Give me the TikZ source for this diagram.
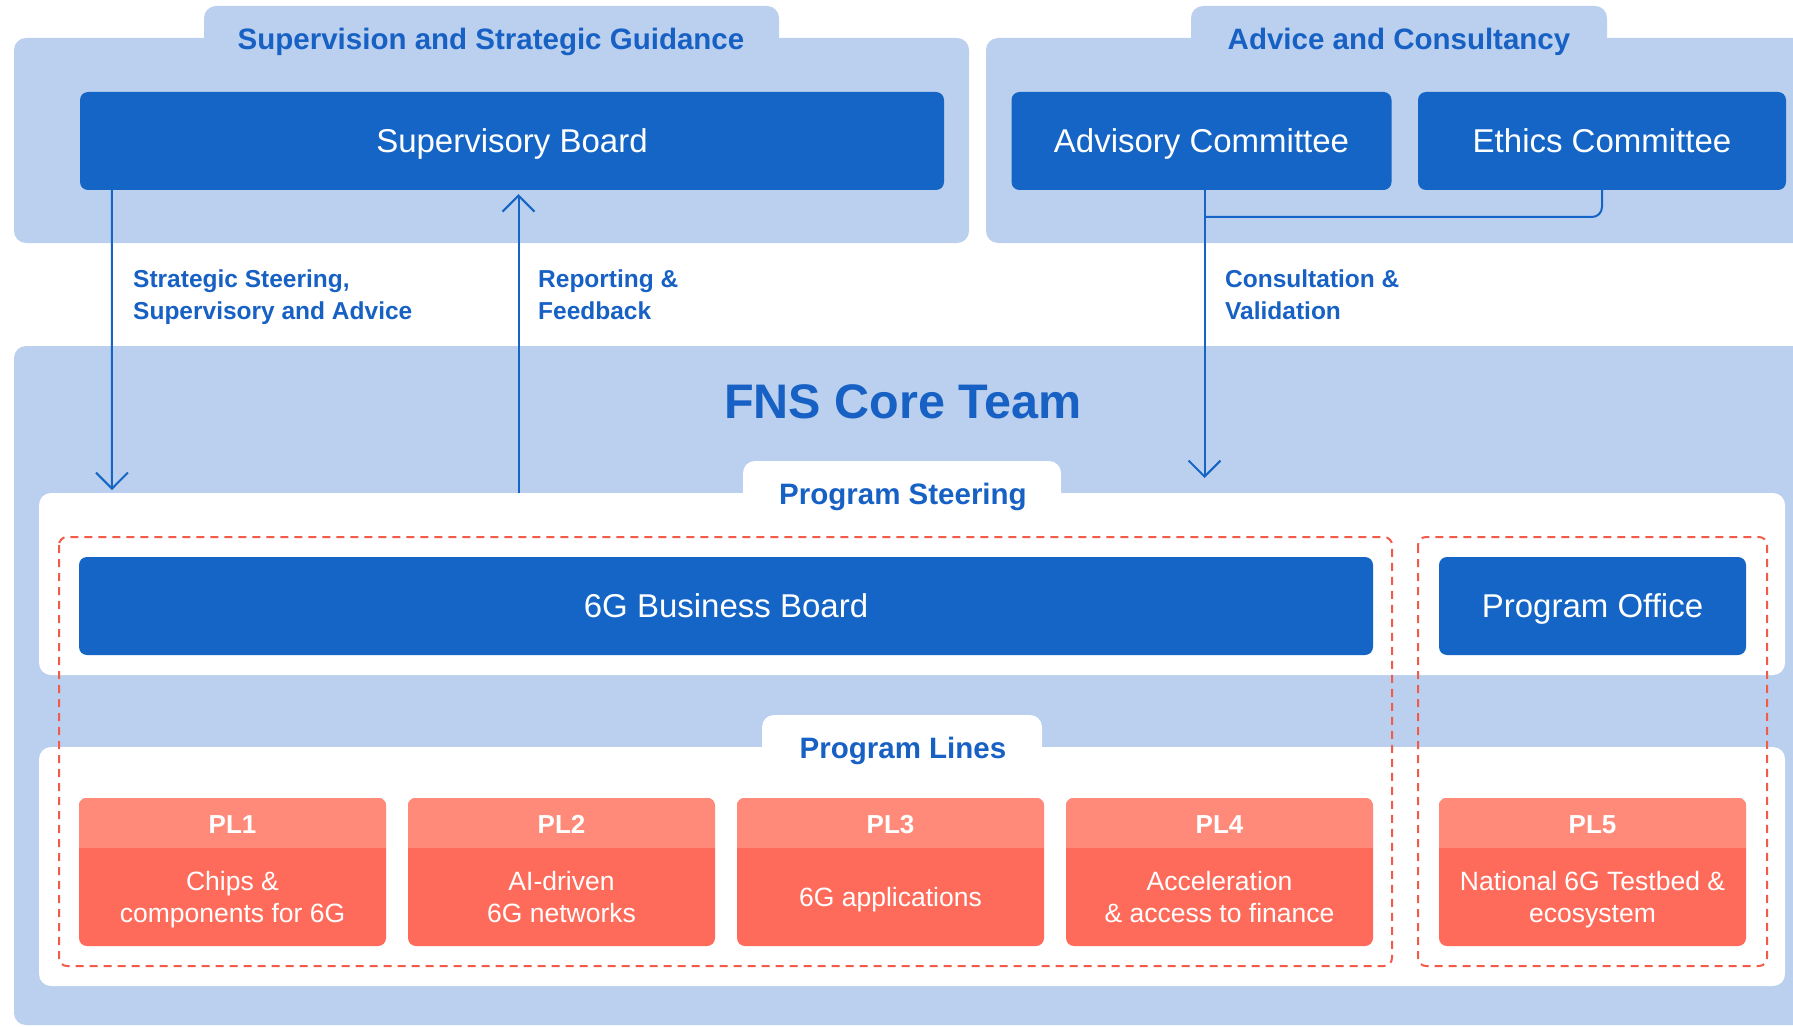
\documentclass[tikz,border=0pt]{standalone}
\usepackage{fontspec}
\setmainfont{Liberation Sans}
\usetikzlibrary{arrows.meta,calc}
\definecolor{panel}{HTML}{BAD0EE}
\definecolor{dblue}{HTML}{1565C6}
\definecolor{tblue}{HTML}{1760C4}
\definecolor{plhead}{HTML}{FF8A7A}
\definecolor{plbody}{HTML}{FF6B5B}
\definecolor{dred}{HTML}{F25A4A}
\tikzset{
  panelbg/.style={fill=panel, rounded corners=12pt},
  whitebg/.style={fill=white, rounded corners=12pt},
  bluebox/.style={fill=dblue, draw=none, rounded corners=8pt, text=white,
    font=\fontsize{33}{38}\selectfont, inner sep=0pt, minimum height=98pt,
    text height=23.6pt, text depth=0pt},
  heading/.style={text=tblue, font=\bfseries\fontsize{29.5}{34}\selectfont, anchor=base},
  bigheading/.style={text=tblue, font=\bfseries\fontsize{48.5}{56}\selectfont, anchor=base},
  flowlabel/.style={text=tblue, font=\bfseries\fontsize{24.5}{32}\selectfont, align=left, anchor=base west, inner sep=0pt},
  conn/.style={draw=dblue, line width=2pt},
  arr/.style={conn, -{Straight Barb[length=16pt,width=32pt]}},
  reddash/.style={draw=dred, line width=2pt, dash pattern=on 8pt off 6pt, rounded corners=8pt},
  plbox/.style={fill=plbody, rounded corners=8pt, minimum width=307pt, minimum height=148pt, inner sep=0pt},
  pltitle/.style={text=white, font=\bfseries\fontsize{26}{30}\selectfont, anchor=base},
  pltext/.style={text=white, font=\fontsize{26.5}{32}\selectfont, align=center, anchor=base, inner sep=0pt},
}
\newcommand\PLbox[5]{%
  \node[plbox] (#1) at (#2,872) {};
  \begin{scope}
    \clip[rounded corners=8pt] (#1.north west) rectangle (#1.south east);
    \fill[plhead] (#1.north west) rectangle ($(#1.north east)+(0,50)$);
  \end{scope}
  \node[pltitle] (#1t) at (#2,833) {#3};
  \node[pltext] (#1d) at (#2,#5) {#4};
}
\begin{document}
\begin{tikzpicture}[x=1pt,y=-1pt]
\useasboundingbox (0,0) rectangle (1793,1027);
\clip (0,0) rectangle (1793,1027);
% background panels
\fill[panelbg] (204,6) rectangle (779,70);
\fill[panelbg] (14,38) rectangle (969,243);
\fill[panelbg] (1191,6) rectangle (1607,70);
\fill[panelbg] (986,38) rectangle (1820,243);
\fill[panelbg] (14,346) rectangle (1820,1025);
\fill[whitebg] (743,461) rectangle (1061,530);
\fill[whitebg] (39,493) rectangle (1785,675);
\fill[whitebg] (762,715) rectangle (1042,780);
\fill[whitebg] (39,747) rectangle (1785,986);
\draw[reddash] (59,537) rectangle (1392,966);
\draw[reddash] (1418,537) rectangle (1767,966);
% headings
\node[heading] (h1) at (491,50) {Supervision and Strategic Guidance};
\node[heading] (h2) at (1399,50) {Advice and Consultancy};
\node[bigheading] (fns) at (903,418) {FNS Core Team};
\node[heading] (hps) at (903,504) {Program Steering};
\node[heading] (hpl) at (903,758) {Program Lines};
% blue boxes
\node[bluebox, minimum width=864pt] (sup) at (512,141) {Supervisory Board};
\node[bluebox, minimum width=380pt] (adv) at (1201.5,141) {Advisory Committee};
\node[bluebox, minimum width=368pt] (eth) at (1602,141) {Ethics Committee};
\node[bluebox, minimum width=1294pt] (bb) at (726,606) {6G Business Board};
\node[bluebox, minimum width=307pt] (po) at (1592.5,606) {Program Office};
% program lines
\PLbox{pl1}{232.5}{PL1}{Chips \&\\components for 6G}{922}
\PLbox{pl2}{561.5}{PL2}{AI-driven\\6G networks}{922}
\PLbox{pl3}{890.5}{PL3}{6G applications}{906}
\PLbox{pl4}{1219.5}{PL4}{Acceleration\\\& access to finance}{922}
\PLbox{pl5}{1592.5}{PL5}{National 6G Testbed \&\\ecosystem}{922}
% connectors
\coordinate (a1e) at (112,490);
\coordinate (a2s) at (518.5,493);
\coordinate (a3s) at ($(adv.south)+(3,0)$);
\coordinate (a3e) at (1204.5,478);
\draw[arr] ($(sup.south west)+(32,0)$) -- (a1e);
\draw[arr] (a2s) -- ($(sup.south)+(6.5,4)$);
\draw[arr] (a3s) -- (a3e);
\draw[conn, rounded corners=10pt] (eth.south) |- (a3s |- 0,217);
% labels
\node[flowlabel] (l1) at (133,319) {Strategic Steering,\\Supervisory and Advice};
\node[flowlabel] (l2) at (538,319) {Reporting \&\\Feedback};
\node[flowlabel] (l3) at (1225,319) {Consultation \&\\Validation};
\end{tikzpicture}
\end{document}
